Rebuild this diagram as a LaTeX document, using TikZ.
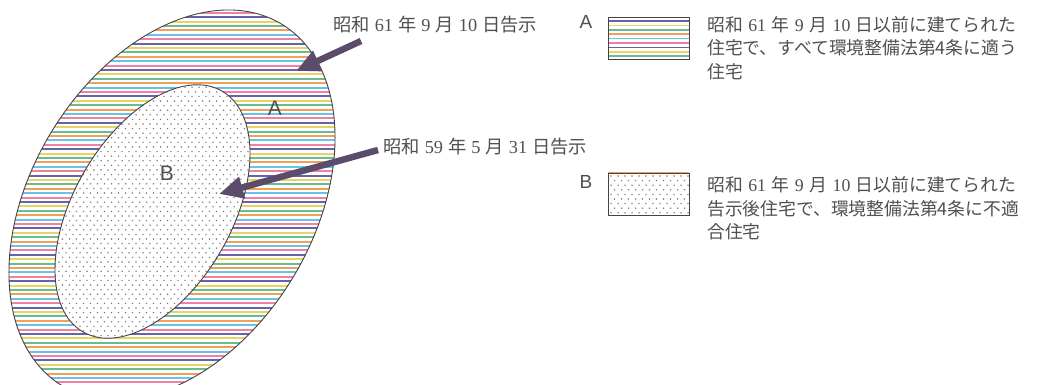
\documentclass[tikz,border=0pt]{standalone}
\usepackage{fontspec}
\setmainfont{Liberation Sans}
\newfontfamily\jp{Noto Sans CJK JP}
\newfontfamily\lat{Liberation Serif}
\usetikzlibrary{arrows.meta}
\definecolor{txt}{HTML}{505050}
\definecolor{edge}{HTML}{4A4048}
\definecolor{arr}{HTML}{5C4C6C}
\definecolor{dotc}{HTML}{7A7A7A}
\definecolor{sc0}{HTML}{F0A058}
\definecolor{sc1}{HTML}{68C4E4}
\definecolor{sc2}{HTML}{F080A4}
\definecolor{sc3}{HTML}{6464A8}
\definecolor{sc4}{HTML}{E8D464}
\definecolor{sc5}{HTML}{68BC90}
\newcommand{\nm}[2][5.5pt]{\hspace{#1}{\lat #2}\hspace{#1}}
\tikzset{
  jtext/.style={text=txt, font=\jp\fontsize{17.8}{20}\selectfont, inner sep=0pt},
  jlabel/.style={text=txt, font=\jp\fontsize{18.3}{20}\selectfont, inner sep=0pt},
  letter/.style={text=txt, font=\fontsize{19}{20}\selectfont, inner sep=0pt},
  bigarrow/.style={draw=arr, line width=6.5pt, -{Triangle[length=24pt,width=21pt]}},
  outline/.style={draw=edge, line width=0.9pt},
  stripe/.style={line width=2.1pt},
}
\begin{document}
\begin{tikzpicture}[x=1pt,y=-1pt]
\useasboundingbox[fill=white] (0,0) rectangle (1042,385);
% outer ellipse stripes
\begin{scope}
\clip[rotate around={58.7:(172,205)}] (172,205) ellipse [x radius=211.5, y radius=141];
\foreach \i in {0,...,92} {
  \pgfmathtruncatemacro\c{mod(\i,6)}
  \draw[stripe, color=sc\c] (0,{4+4.4*\i}) -- (390,{4+4.4*\i});
}
\end{scope}
% inner ellipse dots
\begin{scope}
\clip[rotate around={60:(152.5,211.5)}] (152.5,211.5) ellipse [x radius=139, y radius=79];
\fill[white] (0,60) rectangle (300,360);
\foreach \r in {0,...,60} {
  \pgfmathsetmacro\off{mod(\r,2)*3.5}
  \foreach \k in {0,...,40} {
    \fill[dotc] ({10+\off+7*\k},{78+4.6*\r}) circle (0.8);
  }
}
\end{scope}
\path[outline, rotate around={58.7:(172,205)}] (172,205) ellipse [x radius=211.5, y radius=141];
\path[outline, rotate around={60:(152.5,211.5)}] (152.5,211.5) ellipse [x radius=139, y radius=79];
% labels in the diagram
\node[letter, font=\fontsize{21}{22}\selectfont] (la) at (275,108) {A};
\node[letter, font=\fontsize{21}{22}\selectfont] (lb) at (167,173) {B};
\node[jlabel, anchor=base west] (t1) at (333,31.5) {昭和\nm[5pt]{61}年\nm[5pt]{9}月\nm[5pt]{10}日告示};
\node[jlabel, anchor=base west] (t2) at (383,153.5) {昭和\nm[5pt]{59}年\nm[5pt]{5}月\nm[5pt]{31}日告示};
\coordinate (a1s) at (361,41);
\coordinate (a1e) at (296,71);
\coordinate (a2s) at (378,150);
\coordinate (a2e) at (219,194);
\draw[bigarrow] (a1s) -- (a1e);
\draw[bigarrow] (a2s) -- (a2e);
% legend A
\node[letter] (ka) at (586,22) {A};
\begin{scope}
\clip (608,17) rectangle (689,59);
\foreach \i in {0,...,9} {
  \pgfmathtruncatemacro\c{mod(\i+3,6)}
  \draw[stripe, line width=1.6pt, color=sc\c] (608,{21+4.4*\i}) -- (689,{21+4.4*\i});
}
\end{scope}
\node[draw=edge, line width=0.9pt, minimum width=81pt, minimum height=42pt, inner sep=0pt] (boxa) at (648.5,38) {};
\node[jtext, anchor=base west] (da1) at (707,31.5) {昭和\nm{61}年\nm{9}月\nm{10}日以前に建てられた};
\node[jtext, anchor=base west] (da2) at (707,55) {住宅で、すべて環境整備法第4条に適う};
\node[jtext, anchor=base west] (da3) at (707,78.5) {住宅};
% legend B
\node[letter] (kb) at (586,182) {B};
\begin{scope}
\clip (608,173) rectangle (689,215);
\foreach \r in {0,...,9} {
  \pgfmathsetmacro\off{mod(\r,2)*3.5}
  \foreach \k in {0,...,12} {
    \fill[dotc] ({611+\off+7*\k},{176+4.6*\r}) circle (0.8);
  }
}
\end{scope}
\node[draw=edge, line width=0.9pt, minimum width=81pt, minimum height=42pt, inner sep=0pt] (boxb) at (648.5,194) {};
\draw[color=sc0, line width=1pt] (boxb.north west) -- (boxb.north east);
\node[jtext, anchor=base west] (db1) at (707,191.5) {昭和\nm{61}年\nm{9}月\nm{10}日以前に建てられた};
\node[jtext, anchor=base west] (db2) at (707,215) {告示後住宅で、環境整備法第4条に不適};
\node[jtext, anchor=base west] (db3) at (707,238.5) {合住宅};
\end{tikzpicture}
\end{document}
